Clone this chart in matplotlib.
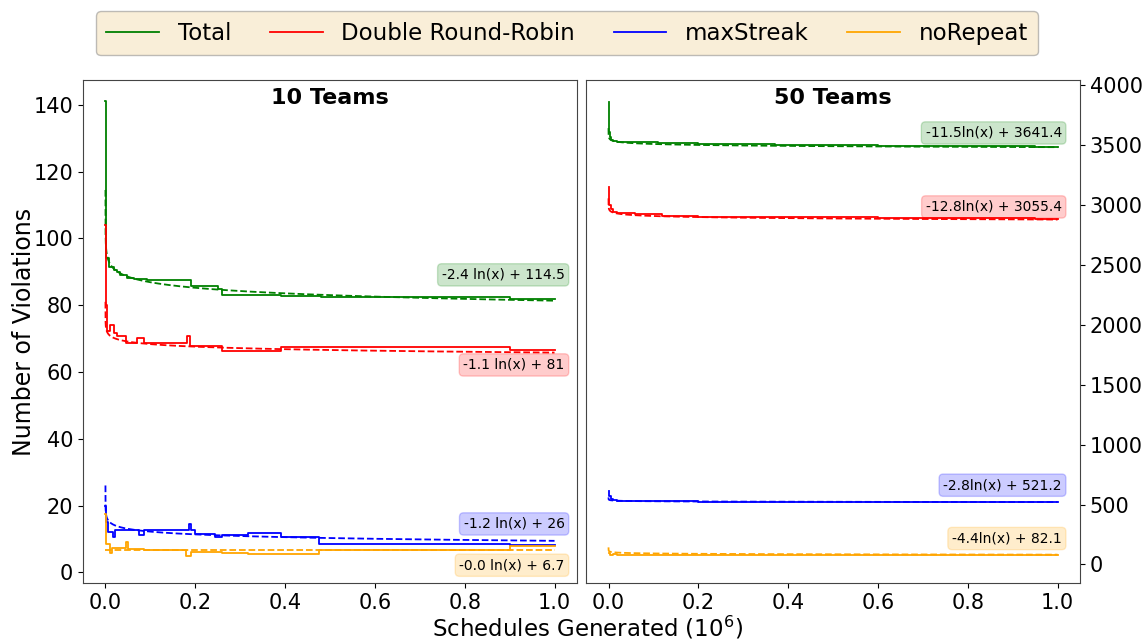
import matplotlib
matplotlib.use("Agg")
import matplotlib.pyplot as plt
import numpy as np

names = ["Total", "Double Round-Robin", "maxStreak", "noRepeat"]
colors = ["green", "red", "blue", "orange"]

# 10 teams, step data (x in 10^6 schedules)
t10_x = [0.0, 0.002, 0.007, 0.018, 0.026, 0.033, 0.048, 0.063, 0.093, 0.19, 0.25, 0.26, 0.39, 0.48, 0.90, 1.0]
t10_y = [141, 94, 91.5, 90.4, 90, 89, 88.2, 87.7, 87.4, 85.6, 84.8, 83, 82.6, 82.4, 81.7, 81.7]

d10_x = [0.0, 0.002, 0.004, 0.01, 0.02, 0.025, 0.045, 0.07, 0.085, 0.182, 0.188, 0.26, 0.39, 0.90, 1.0]
d10_y = [104, 80, 72.2, 74, 71.6, 70.7, 68.7, 70.2, 68.7, 70.7, 67.8, 66.3, 67.5, 66.6, 66.6]

m10_x = [0.0, 0.002, 0.006, 0.016, 0.022, 0.074, 0.085, 0.18, 0.185, 0.19, 0.2, 0.245, 0.26, 0.317, 0.39, 0.475, 0.90, 1.0]
m10_y = [20, 15, 12.2, 10.7, 12.8, 11.3, 12.8, 12.8, 14.6, 12.8, 11.6, 10.7, 11.3, 11.9, 10.7, 8.6, 8.1, 8.1]

n10_x = [0.0, 0.002, 0.01, 0.015, 0.045, 0.05, 0.085, 0.18, 0.19, 0.26, 0.317, 0.475, 0.90, 1.0]
n10_y = [17.5, 8.5, 5.9, 7.4, 9.2, 7.1, 6.8, 4.8, 6.2, 5.9, 5.6, 6.8, 8.0, 8.0]

# 50 teams
t50_x = [0.0, 0.001, 0.003, 0.006, 0.01, 0.02, 0.05, 0.11, 0.2, 0.37, 0.6, 0.8, 0.95, 1.0]
t50_y = [3860, 3610, 3570, 3545, 3535, 3526, 3524, 3518, 3512, 3502, 3496, 3492, 3486, 3485]

d50_x = [0.0, 0.001, 0.005, 0.01, 0.02, 0.06, 0.12, 0.2, 0.37, 0.6, 0.8, 0.95, 1.0]
d50_y = [3146, 3000, 2964, 2945, 2930, 2925, 2906, 2903, 2900, 2895, 2890, 2884, 2881]

m50_x = [0.0, 0.001, 0.005, 0.01, 0.02, 0.1, 0.2, 0.5, 0.8, 1.0]
m50_y = [613, 570, 545, 538, 528, 526, 522, 521, 522, 521]

n50_x = [0.0, 0.003, 0.01, 0.02, 0.2, 0.5, 0.8, 1.0]
n50_y = [100, 80, 84, 82, 83, 83, 83, 83]

# log fits: a*ln(x) + b
fit10 = [(-2.4, 114.5), (-1.1, 81), (-1.2, 26), (-0.0, 6.7)]
fit50 = [(-11.5, 3641.4), (-12.8, 3055.4), (-2.8, 521.2), (-4.4, 82.1)]
fit10_unit = [1e6, 1e6, 1e6, 1e6]
fit50_unit = [1e6, 1e6, 1, 1]
labels10 = ["-2.4 ln(x) + 114.5", "-1.1 ln(x) + 81", "-1.2 ln(x) + 26", "-0.0 ln(x) + 6.7"]
labels50 = ["-11.5ln(x) + 3641.4", "-12.8ln(x) + 3055.4", "-2.8ln(x) + 521.2", "-4.4ln(x) + 82.1"]

lab_y10 = [0.613, 0.434, 0.118, 0.036]
lab_y50 = [0.895, 0.748, 0.195, 0.089]

fig = plt.figure(figsize=(11.48, 6.41), dpi=100)
ax1 = fig.add_axes([0.0723, 0.090, 0.4303, 0.785])
ax2 = fig.add_axes([0.5105, 0.090, 0.4303, 0.785])

xfit = np.geomspace(1e-6, 1.0, 500)


def draw(ax, series, fits, units, labels, lab_y, title, lab_x):
    for (x, y), c, (a, b), u, lab, ly, nm in zip(series, colors, fits, units, labels, lab_y, names):
        ax.plot(x, y, color=c, lw=1.3, drawstyle="steps-post", label=nm)
        ax.plot(xfit, a * np.log(xfit * u) + b, color=c, lw=1.3, ls="--")
        ax.text(lab_x, ly, lab, transform=ax.transAxes, ha="right", va="center", fontsize=10,
                bbox=dict(boxstyle="round,pad=0.3", facecolor=c, alpha=0.2, edgecolor=c))
    ax.text(0.5, 0.985, title, transform=ax.transAxes, ha="center", va="top",
            fontsize=16, fontweight="bold")
    ax.tick_params(labelsize=15)
    for s in ax.spines.values():
        s.set_edgecolor("#444444")
    ax.set_xlim(-0.05, 1.05)
    ax.set_xticks([0.0, 0.2, 0.4, 0.6, 0.8, 1.0])


draw(ax1, [(t10_x, t10_y), (d10_x, d10_y), (m10_x, m10_y), (n10_x, n10_y)],
     fit10, fit10_unit, labels10, lab_y10, "10 Teams", 0.975)
draw(ax2, [(t50_x, t50_y), (d50_x, d50_y), (m50_x, m50_y), (n50_x, n50_y)],
     fit50, fit50_unit, labels50, lab_y50, "50 Teams", 0.963)

ax1.set_ylim(-3.3, 147.4)
ax1.set_yticks(range(0, 141, 20))
ax1.set_ylabel("Number of Violations", fontsize=17, labelpad=-2)

ax2.set_ylim(-157, 4042)
ax2.set_yticks(range(0, 4001, 500))
ax2.yaxis.tick_right()

fig.text(0.512, 0.0, "Schedules Generated (10$^6$)", ha="center", va="bottom", fontsize=16.5)

handles, labs = ax1.get_legend_handles_labels()
fig.legend(handles, labs, loc="upper center", bbox_to_anchor=(0.494, 1.0), ncol=4, fontsize=16.5,
           facecolor="wheat", framealpha=0.5, edgecolor="grey", handlelength=2.3,
           columnspacing=1.7, borderpad=0.45)

fig.savefig("out.png", dpi=100)
